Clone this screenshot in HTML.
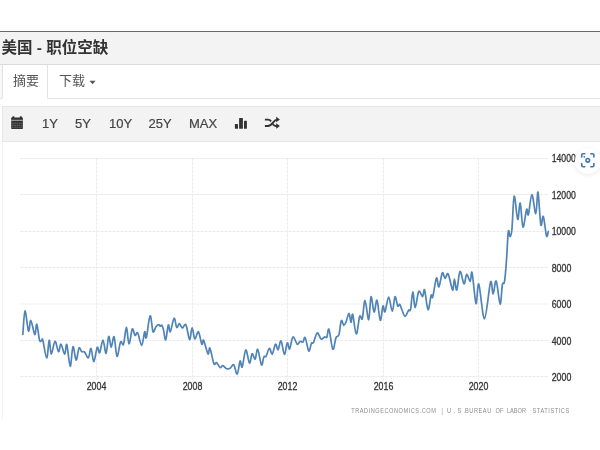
<!DOCTYPE html>
<html><head><meta charset="utf-8">
<style>
*{box-sizing:content-box;margin:0;padding:0}
html,body{width:600px;height:450px;overflow:hidden;background:#fff}
body{position:relative;font-family:"Liberation Sans","Noto Sans CJK SC",sans-serif;color:#333}
.abs{position:absolute}
#topline{left:0;top:31px;width:600px;height:1px;background:#686868}
#header{left:0;top:32px;width:600px;height:32px;background:#f3f3f3;border-bottom:1px solid #dcdcdc}
#title{left:1.5px;top:37.3px;font-size:15.5px;font-weight:bold;line-height:22px;white-space:nowrap;color:#333;letter-spacing:0}
#tabL{left:-10px;top:65px;width:12px;height:33px;border-right:1px solid #e2e2e2;border-bottom:1px solid #e2e2e2;border-bottom-right-radius:2px;background:#f8f8f8}
#tabR{left:47px;top:65px;width:600px;height:33px;border-left:1px solid #e2e2e2;border-bottom:1px solid #e2e2e2;border-bottom-left-radius:2px}
.tabt{font-size:13px;line-height:20px;color:#555;white-space:nowrap}
#t1{left:13px;top:71px}
#t2{left:59px;top:71px}
#tool{left:2px;top:106px;width:620px;height:34px;background:#f3f3f3;border:1px solid #e6e6e6;border-right:none}
.tb{font-size:13px;line-height:16px;color:#444;top:116px;-webkit-text-stroke:0.2px #444}
#chartbox{left:2px;top:142px;width:1px;height:277px;background:#f2f2f2}
#focus{left:575px;top:148px;width:26px;height:26px;border-radius:50%;background:#fff;box-shadow:0 1px 4px rgba(0,0,0,0.09)}
svg{position:absolute;left:0;top:0}
</style></head><body>
<div id="topline" class="abs"></div>
<div id="header" class="abs"></div>
<div id="title" class="abs">美国 - 职位空缺</div>
<div id="tabL" class="abs"></div>
<div id="tabR" class="abs"></div>
<div id="t1" class="abs tabt">摘要</div>
<div id="t2" class="abs tabt">下载</div>
<div id="tool" class="abs"></div>
<svg width="600" height="450" viewBox="0 0 600 450" style="pointer-events:none">
 <polygon points="89.5,80.8 95.6,80.8 92.55,84.2" fill="#555"/>
 <g fill="#333">
  <!-- calendar -->
  <rect x="11.2" y="117.6" width="11.7" height="11.3" rx="0.6"/>
  <rect x="12.2" y="116.2" width="2.3" height="2.5" rx="1"/>
  <rect x="19.7" y="116.2" width="2.3" height="2.5" rx="1"/>
 </g>
 <g stroke="#d0d0d0" stroke-width="0.8">
  <line x1="11.2" y1="120.3" x2="22.9" y2="120.3"/>
 </g>
 <g stroke="#8a8a8a" stroke-width="0.6" stroke-dasharray="1.6 0.7">
  <line x1="12" y1="123.3" x2="22.4" y2="123.3"/>
  <line x1="12" y1="125.3" x2="22.4" y2="125.3"/>
  <line x1="12" y1="127.2" x2="22.4" y2="127.2"/>
 </g>
 <g fill="#333">
  <!-- bar chart -->
  <rect x="234.9" y="123.9" width="3.1" height="4.9" rx="0.5"/>
  <rect x="239.1" y="117.9" width="3.8" height="10.9" rx="0.5"/>
  <rect x="244" y="120.8" width="2.9" height="8" rx="0.5"/>
  <!-- shuffle arrows -->
  <polygon points="276.2,116.8 279.9,119.6 276.2,122.3"/>
  <polygon points="276.2,123.3 279.9,126 276.2,128.7"/>
 </g>
 <g fill="none" stroke="#333" stroke-width="1.9" stroke-linecap="butt">
  <path d="M264.9 126H268C270.3 126 271.6 124.4 273.2 122.4C274.8 120.4 275.5 119.6 277 119.6"/>
  <path d="M264.9 119.6H268C269.4 119.6 270.3 120.3 271.1 121.4"/>
  <path d="M272.7 124C273.5 125.2 274.5 126 276 126H277"/>
 </g>
</svg>
<div class="abs tb" style="left:42px">1Y</div>
<div class="abs tb" style="left:75px">5Y</div>
<div class="abs tb" style="left:109px">10Y</div>
<div class="abs tb" style="left:148.5px">25Y</div>
<div class="abs tb" style="left:189px">MAX</div>
<div id="chartbox" class="abs"></div>
<svg width="600" height="450" viewBox="0 0 600 450">
 <g stroke="#e9e9e9" stroke-width="1" stroke-dasharray="3 1" fill="none">
  <path d="M20.5 158.5H548M20.5 194.5H548M20.5 231.5H548M20.5 267.5H548M20.5 304H548M20.5 340.5H548M20.5 376.5H548"/>
 </g>
 <path stroke="#ececec" stroke-width="1" stroke-dasharray="3 1" fill="none" d="M96.5 158V380M192.5 158V380M287.5 158V380M383.5 158V380M478.5 158V380"/>
 <path fill="none" stroke="#5083b6" stroke-width="1.7" stroke-linejoin="round" stroke-linecap="round" d="M22.8 334.5C23.2 330.6 24.1 311.6 25.0 311.0C25.9 310.4 27.5 329.4 28.5 331.0C29.5 332.6 29.8 319.9 30.8 320.5C31.9 321.1 33.8 333.9 34.8 334.5C35.8 335.1 36.0 323.3 36.8 324.2C37.6 325.1 38.7 337.2 39.5 340.0C40.3 342.8 41.0 340.8 41.5 340.8C42.0 340.8 41.9 337.1 42.8 340.0C43.7 342.9 45.6 357.9 46.7 358.0C47.8 358.1 48.4 340.9 49.2 340.3C50.0 339.7 50.3 354.0 51.3 354.2C52.3 354.4 53.8 341.7 55.0 341.3C56.2 340.9 57.5 351.2 58.5 351.7C59.5 352.2 60.0 343.8 61.0 344.2C62.0 344.6 63.7 354.1 64.7 354.2C65.7 354.2 65.9 342.5 66.8 344.5C67.7 346.5 69.2 365.9 70.2 366.3C71.2 366.7 72.0 347.7 73.0 346.7C74.0 345.7 75.1 360.0 76.1 360.2C77.1 360.4 78.1 349.4 79.0 348.0C79.9 346.6 80.7 350.9 81.6 351.6C82.5 352.3 83.4 351.0 84.5 352.0C85.6 353.0 87.3 358.4 88.4 357.8C89.5 357.2 90.1 347.8 91.0 348.4C91.9 349.0 92.9 361.9 93.9 361.7C94.9 361.5 96.2 348.9 97.2 347.4C98.2 345.9 98.6 353.9 99.6 352.7C100.6 351.5 101.9 340.0 103.0 340.1C104.1 340.2 105.1 354.0 106.1 353.4C107.0 352.8 107.8 337.5 108.7 336.5C109.6 335.5 110.3 347.1 111.2 347.2C112.1 347.2 113.1 335.3 114.1 336.8C115.1 338.3 115.9 355.5 117.0 356.3C118.1 357.1 119.5 343.9 120.6 341.9C121.7 339.9 122.5 346.7 123.5 344.3C124.5 341.9 125.5 327.5 126.4 327.4C127.3 327.3 128.0 343.6 129.0 343.9C130.0 344.2 131.3 330.4 132.3 329.0C133.3 327.6 134.1 334.7 135.0 335.4C135.9 336.1 136.6 331.4 137.7 333.0C138.8 334.6 140.5 345.5 141.7 345.3C142.9 345.1 143.9 333.0 144.7 331.7C145.5 330.4 145.4 340.3 146.3 337.7C147.2 335.1 149.0 316.9 150.1 315.9C151.2 314.9 152.1 329.8 153.0 331.7C153.9 333.6 154.9 328.2 155.8 327.0C156.7 325.8 157.9 324.7 158.6 324.6C159.3 324.5 159.7 326.1 160.2 326.2C160.7 326.3 161.2 324.7 161.7 325.2C162.2 325.7 162.6 326.6 163.3 329.0C164.0 331.4 164.9 340.6 165.7 339.9C166.5 339.2 167.5 326.4 168.3 325.0C169.1 323.6 169.3 332.8 170.3 331.7C171.3 330.6 173.0 319.0 174.1 318.3C175.2 317.6 175.8 326.5 176.7 327.4C177.6 328.3 178.5 323.6 179.4 323.7C180.3 323.8 181.2 327.8 182.3 328.0C183.4 328.2 184.7 322.9 185.9 324.8C187.1 326.7 188.6 339.0 189.6 339.5C190.6 340.0 191.2 328.0 192.1 327.9C193.0 327.8 193.8 338.1 194.8 338.8C195.9 339.5 197.2 330.9 198.4 331.8C199.6 332.7 200.9 342.8 201.8 344.2C202.7 345.6 202.6 338.7 203.6 340.3C204.6 341.9 206.9 352.6 208.0 353.9C209.1 355.2 208.9 346.5 209.9 348.1C210.9 349.7 212.8 361.3 213.9 363.7C215.0 366.1 215.5 362.0 216.5 362.6C217.5 363.2 219.0 367.0 220.1 367.5C221.2 368.0 221.7 365.5 222.8 365.7C223.9 365.9 225.4 368.4 226.7 368.8C228.0 369.2 229.3 368.6 230.5 367.9C231.7 367.2 232.6 363.7 233.7 364.7C234.8 365.7 236.1 374.7 237.2 374.1C238.3 373.5 239.3 362.2 240.1 361.0C240.9 359.8 241.2 368.8 242.2 367.0C243.1 365.2 244.6 350.7 245.8 350.0C247.0 349.3 248.4 362.4 249.5 363.0C250.6 363.6 251.2 354.3 252.1 353.7C253.0 353.1 254.3 359.8 255.2 359.1C256.1 358.4 256.6 348.4 257.7 349.4C258.8 350.4 260.5 363.6 261.5 364.9C262.5 366.1 263.1 358.3 263.9 356.9C264.7 355.4 265.2 357.6 266.1 356.2C267.0 354.8 268.4 348.7 269.4 348.3C270.4 347.9 271.3 354.7 272.3 354.0C273.3 353.3 274.5 344.9 275.5 344.2C276.5 343.5 277.2 350.2 278.1 349.7C279.0 349.2 279.9 340.2 281.0 341.0C282.1 341.8 283.3 354.0 284.4 354.3C285.4 354.6 286.4 343.7 287.3 342.8C288.2 341.9 288.7 350.0 289.6 349.0C290.6 348.0 291.7 337.8 293.0 337.0C294.3 336.2 296.0 343.5 297.2 344.2C298.4 344.9 299.1 341.7 300.1 341.3C301.1 340.9 302.1 342.6 303.0 342.0C303.9 341.4 304.2 336.1 305.2 337.6C306.2 339.1 307.8 350.1 308.8 351.1C309.8 352.1 310.6 344.8 311.4 343.4C312.2 342.0 312.5 344.2 313.5 342.5C314.5 340.8 315.9 333.5 317.2 332.9C318.5 332.3 319.9 338.4 321.1 339.1C322.4 339.8 323.7 337.2 324.7 336.9C325.7 336.6 326.2 338.4 326.9 337.2C327.6 335.9 328.0 327.4 329.0 329.4C330.0 331.4 331.6 347.8 332.8 349.2C334.0 350.6 335.0 340.0 336.0 337.6C337.0 335.2 338.0 337.6 338.9 334.8C339.8 332.0 340.5 322.3 341.3 320.7C342.1 319.1 343.0 325.2 343.8 325.4C344.6 325.6 345.1 324.0 346.0 322.0C346.9 320.0 348.2 313.3 349.0 313.4C349.8 313.5 350.4 322.2 351.0 322.4C351.6 322.6 351.8 312.5 352.7 314.4C353.6 316.3 355.1 333.7 356.3 334.0C357.5 334.3 358.7 318.9 359.7 316.3C360.7 313.8 361.4 321.3 362.3 318.7C363.2 316.1 363.9 300.5 365.0 300.7C366.1 300.9 367.7 320.4 368.7 319.7C369.7 319.0 370.1 298.0 371.0 296.7C371.9 295.4 373.1 311.4 374.1 312.0C375.1 312.6 376.0 298.9 377.0 300.3C378.0 301.7 379.3 319.4 380.3 320.3C381.3 321.2 382.2 307.4 383.0 306.0C383.8 304.6 384.1 313.2 385.0 311.7C385.9 310.2 387.5 297.2 388.7 297.1C389.9 297.0 391.2 311.4 392.3 311.3C393.4 311.2 394.1 297.6 395.0 296.7C395.9 295.8 396.9 304.7 397.7 306.0C398.5 307.3 399.0 303.6 399.7 304.3C400.4 305.0 401.1 308.0 402.0 310.0C402.9 312.0 403.9 316.4 405.0 316.4C406.1 316.4 407.7 311.4 408.6 310.2C409.5 309.0 409.9 312.4 410.6 309.4C411.3 306.4 412.0 292.3 412.8 292.0C413.6 291.7 414.2 307.7 415.2 307.6C416.2 307.5 417.5 293.3 418.7 291.5C419.9 289.7 421.6 296.9 422.6 296.7C423.6 296.4 423.7 287.8 424.6 290.0C425.5 292.2 426.9 308.8 428.0 309.7C429.1 310.6 430.3 297.5 431.1 295.4C431.9 293.3 431.8 299.9 432.7 297.0C433.6 294.1 435.5 279.7 436.5 278.0C437.5 276.3 437.9 287.8 438.9 286.9C439.9 286.0 441.3 274.3 442.3 272.9C443.3 271.5 444.1 278.1 445.1 278.3C446.1 278.5 446.9 272.1 448.2 274.0C449.4 275.9 451.6 289.1 452.6 290.0C453.6 290.9 453.7 279.1 454.4 279.1C455.1 279.1 455.9 291.3 456.8 290.0C457.7 288.7 458.8 272.5 460.0 271.5C461.2 270.5 462.9 283.3 464.0 283.8C465.1 284.3 465.7 274.8 466.7 274.4C467.7 274.0 469.3 281.6 470.2 281.4C471.1 281.1 471.1 269.2 472.1 272.9C473.1 276.6 474.9 301.6 476.0 303.5C477.1 305.4 477.4 281.6 478.8 284.2C480.2 286.8 482.6 319.1 484.5 318.8C486.4 318.5 489.1 286.4 490.5 282.2C491.9 278.0 492.2 294.1 493.1 293.9C494.1 293.7 495.0 279.4 496.2 281.1C497.4 282.8 499.1 303.4 500.1 304.0C501.1 304.6 501.7 288.2 502.4 284.5C503.1 280.8 503.8 285.8 504.5 281.7C505.2 277.6 505.9 268.3 506.5 259.9C507.1 251.5 507.7 235.4 508.3 231.5C508.9 227.6 509.5 236.8 510.1 236.5C510.7 236.2 511.2 236.4 511.9 229.7C512.6 223.0 513.2 198.0 514.2 196.3C515.2 194.6 516.7 218.3 517.7 219.4C518.7 220.5 519.3 201.8 520.2 203.1C521.1 204.4 521.9 226.0 523.0 227.0C524.1 228.0 525.7 211.4 526.6 209.3C527.5 207.2 527.5 217.1 528.4 214.6C529.3 212.1 530.7 194.8 531.9 194.6C533.1 194.4 534.8 214.1 535.8 213.7C536.8 213.3 537.2 190.3 538.0 192.1C538.8 193.9 539.9 220.6 540.8 224.7C541.7 228.8 542.3 214.5 543.3 216.4C544.2 218.3 545.7 233.4 546.5 235.9C547.3 238.4 548.0 232.2 548.3 231.5"/>
 <g font-family="Liberation Sans, sans-serif" font-size="10.2" fill="#333" stroke="#333" stroke-width="0.3">
  <text x="551.7" y="162.0" textLength="24.2" lengthAdjust="spacingAndGlyphs">14000</text>
  <text x="551.7" y="198.5" textLength="24.2" lengthAdjust="spacingAndGlyphs">12000</text>
  <text x="551.7" y="235.0" textLength="24.2" lengthAdjust="spacingAndGlyphs">10000</text>
  <text x="551.7" y="271.5" textLength="19.6" lengthAdjust="spacingAndGlyphs">8000</text>
  <text x="551.7" y="308.0" textLength="19.6" lengthAdjust="spacingAndGlyphs">6000</text>
  <text x="551.7" y="344.5" textLength="19.6" lengthAdjust="spacingAndGlyphs">4000</text>
  <text x="551.7" y="380.5" textLength="19.6" lengthAdjust="spacingAndGlyphs">2000</text>
 </g>
 <g font-family="Liberation Sans, sans-serif" font-size="10.4" fill="#333" stroke="#333" stroke-width="0.3" text-anchor="middle">
  <text x="96.5" y="390" textLength="19.6" lengthAdjust="spacingAndGlyphs">2004</text>
  <text x="192.5" y="390" textLength="19.6" lengthAdjust="spacingAndGlyphs">2008</text>
  <text x="287.5" y="390" textLength="19.6" lengthAdjust="spacingAndGlyphs">2012</text>
  <text x="383.5" y="390" textLength="19.6" lengthAdjust="spacingAndGlyphs">2016</text>
  <text x="478.5" y="390" textLength="19.6" lengthAdjust="spacingAndGlyphs">2020</text>
 </g>
</svg>
<svg width="600" height="450" viewBox="0 0 600 450">
 <g font-family="Liberation Sans, sans-serif" font-size="7.6" fill="#8c8c8c" transform="scale(0.74 1)">
  <text x="474.73" y="413.3" textLength="114.32" lengthAdjust="spacing">TRADINGECONOMICS.COM</text>
  <text x="604.05" y="413.3" textLength="24.86" lengthAdjust="spacing">U.S.</text>
  <text x="628.38" y="413.3" textLength="35.41" lengthAdjust="spacing">BUREAU</text>
  <text x="669.59" y="413.3" textLength="10.81" lengthAdjust="spacing">OF</text>
  <text x="685.14" y="413.3" textLength="25.68" lengthAdjust="spacing">LABOR</text>
  <text x="719.59" y="413.3" textLength="49.59" lengthAdjust="spacing">STATISTICS</text>
  <text x="596.76" y="412.8" font-size="6.6">|</text>
 </g>
</svg>
<div id="focus" class="abs"></div>
<svg width="600" height="450" viewBox="0 0 600 450">
 <g fill="none" stroke="#3f73b3" stroke-width="1.6" stroke-linecap="round">
  <path d="M581.7 157V155.2Q581.7 153.8 583.1 153.8H584.8"/>
  <path d="M590.8 153.8H592.5Q593.9 153.8 593.9 155.2V157"/>
  <path d="M593.9 163.5V165.3Q593.9 166.7 592.5 166.7H590.8"/>
  <path d="M584.8 166.7H583.1Q581.7 166.7 581.7 165.3V163.5"/>
  <circle cx="587.8" cy="160.3" r="1.8"/>
 </g>
 <circle cx="584.3" cy="156.8" r="0.9" fill="#3f73b3"/>
</svg>
</body></html>
